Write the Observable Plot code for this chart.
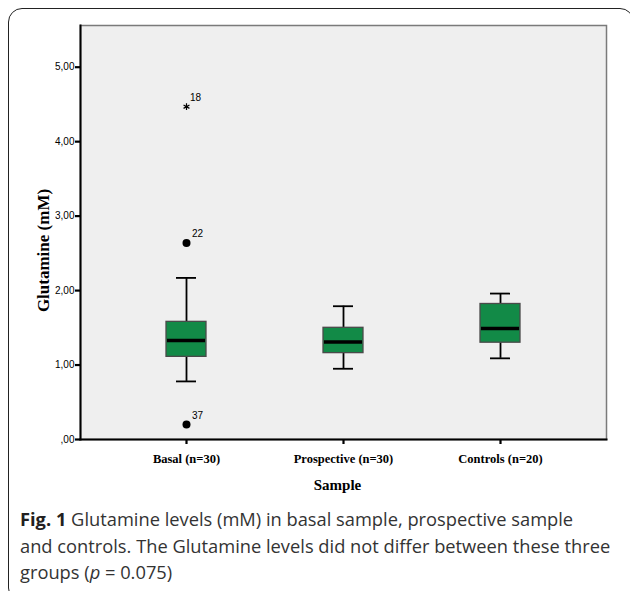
<!DOCTYPE html>
<html>
<head>
<meta charset="utf-8">
<script src="https://cdn.jsdelivr.net/npm/d3@7"></script>
<script src="https://cdn.jsdelivr.net/npm/@observablehq/plot@0.6"></script>
<style>
  html, body { margin: 0; padding: 0; background: #fff; }
  #wrap { position: relative; width: 630px; height: 591px; overflow: hidden; background: #fff; }
  #border { position: absolute; left: 8px; top: 8px; width: 626px; height: 594px; border: 1.6px solid #222; border-radius: 14px; box-sizing: border-box; }
  #chart { position: absolute; left: 0; top: 0; }
  #caption { position: absolute; left: 20px; top: 506px; width: 610px; font-family: "Open Sans", sans-serif; font-size: 18.3px; line-height: 26.5px; color: #333; white-space: nowrap; }
  #caption b { font-weight: 700; color: #231f20; }
</style>
</head>
<body>
<div id="wrap">
  <div id="border"></div>
  <div id="chart"></div>
  <div id="caption"><b>Fig. 1</b> Glutamine levels (mM) in basal sample, prospective sample<br>and controls. The Glutamine levels did not differ between these three<br>groups (<i>p</i> = 0.075)</div>
</div>
<script>
const categories = ["Basal (n=30)", "Prospective (n=30)", "Controls (n=20)"];
const whiskerLow = [0.78, 0.95, 1.09];
const q1 = [1.11, 1.16, 1.30];
const median = [1.33, 1.31, 1.49];
const q3 = [1.58, 1.50, 1.82];
const whiskerHigh = [2.17, 1.79, 1.96];

const outlierGroup = ["Basal (n=30)", "Basal (n=30)"];
const outlierValues = [2.64, 0.20];
const outlierIds = ["22", "37"];

const extremeGroup = ["Basal (n=30)"];
const extremeValues = [4.47];
const extremeIds = ["18"];

const yTicks = [0, 1, 2, 3, 4, 5];
const yTickLabels = [",00", "1,00", "2,00", "3,00", "4,00", "5,00"];

const yLabel = "Glutamine (mM)";
const xLabel = "Sample";

const boxes = categories.map((c, i) => ({cat: c, lo: whiskerLow[i], q1: q1[i], med: median[i], q3: q3[i], hi: whiskerHigh[i]}));
const outliers = outlierValues.map((v, i) => ({cat: outlierGroup[i], v, id: outlierIds[i]}));
const extremes = extremeValues.map((v, i) => ({cat: extremeGroup[i], v, id: extremeIds[i]}));

const serif = "'Liberation Serif', 'Times New Roman', serif";
const sans = "'Liberation Sans', Arial, sans-serif";

const chart = Plot.plot({
  width: 630,
  height: 500,
  marginLeft: 80,
  marginRight: 24,
  marginTop: 25,
  marginBottom: 61,
  style: {fontFamily: sans, background: "transparent", color: "black"},
  x: {domain: categories, type: "band", paddingInner: 0.747, paddingOuter: 0.541, align: 0.5},
  y: {domain: [0, 5.56]},
  marks: [
    Plot.frame({fill: "#efefef", stroke: "#7a7a7a", strokeWidth: 1.5}),
    Plot.ruleX(boxes, {x: "cat", y1: "lo", y2: "q1", stroke: "black", strokeWidth: 1.8}),
    Plot.ruleX(boxes, {x: "cat", y1: "q3", y2: "hi", stroke: "black", strokeWidth: 1.8}),
    Plot.tickY(boxes, {x: "cat", y: "lo", insetLeft: 10, insetRight: 10, stroke: "black", strokeWidth: 1.8}),
    Plot.tickY(boxes, {x: "cat", y: "hi", insetLeft: 10, insetRight: 10, stroke: "black", strokeWidth: 1.8}),
    Plot.barY(boxes, {x: "cat", y1: "q1", y2: "q3", fill: "#128a47", stroke: "#4a4a4a", strokeWidth: 1.3}),
    Plot.tickY(boxes, {x: "cat", y: "med", stroke: "black", strokeWidth: 3.5, insetLeft: 1, insetRight: 1}),
    Plot.dot(outliers, {x: "cat", y: "v", r: 4, fill: "black", stroke: "none"}),
    Plot.text(outliers, {x: "cat", y: "v", text: "id", dx: 11, dy: -9, fontSize: 10, fill: "black"}),
    Plot.dot(extremes, {x: "cat", y: "v", symbol: "asterisk", r: 3.2, stroke: "black", strokeWidth: 1.2}),
    Plot.text(extremes, {x: "cat", y: "v", text: "id", dx: 9, dy: -9, fontSize: 10, fill: "black"}),
    Plot.frame({anchor: "left", stroke: "black", strokeWidth: 2}),
    Plot.frame({anchor: "bottom", stroke: "black", strokeWidth: 2}),
    Plot.axisY({ticks: yTicks, tickFormat: d => yTickLabels[yTicks.indexOf(d)], tickSize: 5, tickPadding: 1, strokeWidth: 2.2, fontSize: 10, label: null, fill: "black"}),
    Plot.axisX({tickSize: 5, tickPadding: 10, strokeWidth: 2.2, fontSize: 12.5, fontWeight: "bold", fontFamily: serif, label: null, fill: "black"}),
    Plot.text([yLabel], {text: d => d, frameAnchor: "left", textAnchor: "middle", rotate: -90, dx: -37, dy: 18, fontSize: 17, fontWeight: "bold", fontFamily: serif, fill: "black"}),
    Plot.text([xLabel], {text: d => d, frameAnchor: "bottom", dx: -6, dy: 50, fontSize: 15, fontWeight: "bold", fontFamily: serif, fill: "black"})
  ]
});
document.getElementById("chart").appendChild(chart);
</script>
</body>
</html>
